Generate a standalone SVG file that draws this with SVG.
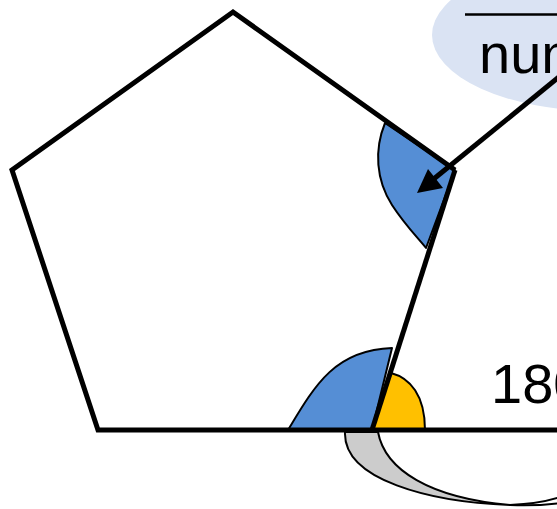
<svg xmlns="http://www.w3.org/2000/svg" width="557" height="509" viewBox="0 0 557 509">
<style>
.angle{stroke:#000;stroke-width:2;stroke-linejoin:round}
.blue{fill:#558ed5}
.yellow{fill:#ffc000}
.edge{fill:none;stroke:#000;stroke-width:5;stroke-linejoin:miter}
.lbl{font-family:"Liberation Sans",Arial,sans-serif;font-size:56px;fill:#000}
</style>
<g id="bubble">
<ellipse cx="600" cy="35" rx="168" ry="76" fill="#dae3f3"/>
<line x1="465" y1="14.5" x2="557" y2="14.5" stroke="#000" stroke-width="2.5"/>
<text class="lbl" x="479" y="73">num</text>
</g>
<g id="angle-right" class="angle blue">
<path d="M385,123 C374,150 376,180 392,205 C405,225 418,238 426,248 L455,170 Z"/>
</g>
<g id="angle-bottom-interior" class="angle blue">
<path d="M288,430 C315,385 335,350 392,348 L372,430 Z"/>
</g>
<g id="angle-bottom-exterior" class="angle yellow">
<path d="M391,373 C410,378 425,395 425,430 L372,430 Z"/>
</g>
<g id="pentagon">
<polyline class="edge" points="455,170 233,12 12,170 98,430 557,430"/>
<line class="edge" x1="455" y1="170" x2="372" y2="430"/>
</g>
<g id="label-180">
<text class="lbl" x="491" y="403">180</text>
</g>
<g id="connectors">
<path d="M345,432 C343,480 430,502 510,505 C430,498 385,470 378,432 Z" fill="#cccccc" stroke="#000" stroke-width="2"/>
<path d="M510,505 C530,504 545,502 560,497" fill="none" stroke="#000" stroke-width="2"/>
<path d="M510,505 C530,506 545,505 560,503" fill="none" stroke="#000" stroke-width="2"/>
<line x1="570" y1="68" x2="430" y2="182" stroke="#000" stroke-width="5"/>
<polygon points="417,193 428,169 443,188"/>
</g>
</svg>
